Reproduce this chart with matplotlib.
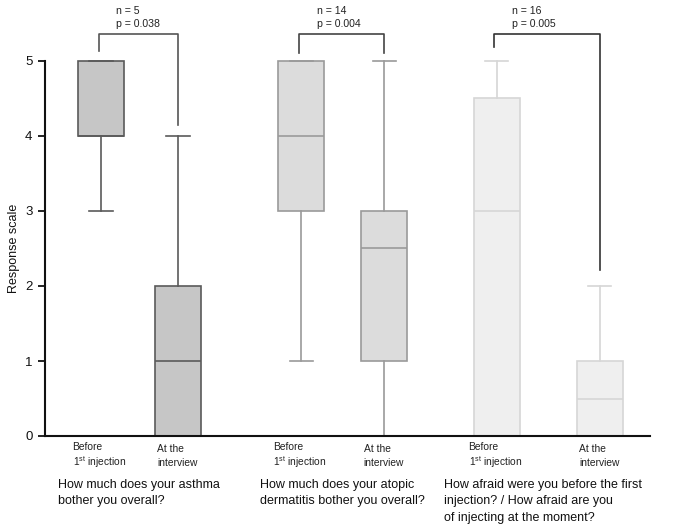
import matplotlib
matplotlib.use("Agg")
import matplotlib.pyplot as plt

plt.rcParams['font.family'] = ['Liberation Sans', 'DejaVu Sans']
plt.rcParams['mathtext.fontset'] = 'custom'
plt.rcParams['mathtext.rm'] = 'Liberation Sans'
plt.rcParams['mathtext.it'] = 'Liberation Sans:italic'

# ---- data ----
questions = ["How much does your asthma\nbother you overall?",
             "How much does your atopic\ndermatitis bother you overall?",
             "How afraid were you before the first\ninjection? / How afraid are you\nof injecting at the moment?"]
before_lines = ["Before", "1$^{\\mathrm{st}}$ injection"]
after_lines = ["At the", "interview"]
n_values = [5, 14, 16]
p_values = ["0.038", "0.004", "0.005"]
# per box: order: G1 before, G1 after, G2 before, G2 after, G3 before, G3 after
whislo = [3, 0, 1, 0, 0, 0]
q1 = [4, 0, 3, 1, 0, 0]
med = [4, 1, 4, 2.5, 3, 0.5]
q3 = [5, 2, 5, 3, 4.5, 1]
whishi = [5, 4, 5, 5, 5, 2]
# bracket leg ends (y) for [before, after] per group
bracket_leg_ends = [[5.13, 4.15], [5.11, 5.11], [5.18, 2.21]]

positions = [1.0, 2.0, 3.6, 4.68, 6.14, 7.48]
fills = ['#c6c6c6', '#dcdcdc', '#efefef']
edges = ['#5a5a5a', '#9a9a9a', '#d6d6d6']
bracket_colors = ['#555555', '#444444', '#333333']

fig = plt.figure(figsize=(6.85, 5.24), dpi=100)
ax = fig.add_axes([45/685, 88/524, 605/685, 412.5/524])

stats = []
for i in range(6):
    stats.append(dict(whislo=whislo[i], q1=q1[i], med=med[i], q3=q3[i], whishi=whishi[i], fliers=[]))

for i in range(6):
    g = i // 2
    c = edges[g]
    ax.bxp([stats[i]], positions=[positions[i]], widths=0.6, patch_artist=True,
           showfliers=False, capwidths=[0.3],
           boxprops=dict(facecolor=fills[g], edgecolor=c, linewidth=1.2),
           medianprops=dict(color=c, linewidth=1.2),
           whiskerprops=dict(color=c, linewidth=1.2),
           capprops=dict(color=c, linewidth=1.2))

ax.set_xlim(0.273, 8.13)
ax.set_ylim(0, 5.5)
ax.spines['top'].set_visible(False)
ax.spines['right'].set_visible(False)
ax.spines['left'].set_bounds(0, 5)
for s in ['left', 'bottom']:
    ax.spines[s].set_linewidth(1.5)
    ax.spines[s].set_color('#111111')
ax.set_yticks([0, 1, 2, 3, 4, 5])
ax.set_xticks([])
ax.tick_params(axis='y', direction='out', length=5, width=1.3, labelsize=9.5, colors='#111111', pad=4)
ax.set_ylabel("Response scale", fontsize=9, color='#111111')
ax.yaxis.set_label_coords(-0.051, 2.5/5.5)
ax.yaxis.label.set_va('center')

# brackets and annotations
top_y = 5.36
for g in range(3):
    xa = positions[2*g] - 0.03
    xb = positions[2*g+1]
    ya, yb = bracket_leg_ends[g]
    ax.plot([xa, xa, xb, xb], [ya, top_y, top_y, yb], color=bracket_colors[g], lw=1.2, clip_on=False)
    ax.text(positions[2*g] + 0.2, 5.42, f"n = {n_values[g]}\np = {p_values[g]}", fontsize=7.6,
            ha='left', va='bottom', color='#222222', linespacing=1.45)

# x labels
tr = ax.get_xaxis_transform()
for g in range(3):
    ax.text(positions[2*g] - 0.37, -0.0267, before_lines[0], transform=tr, fontsize=7.4,
            ha='left', va='center', color='#222222')
    ax.text(positions[2*g] - 0.36, -0.063, before_lines[1], transform=tr, fontsize=7.4,
            ha='left', va='center', color='#222222')
    ax.text(positions[2*g+1] - 0.27, -0.0315, after_lines[0], transform=tr, fontsize=7.4,
            ha='left', va='center', color='#222222')
    ax.text(positions[2*g+1] - 0.27, -0.0655, after_lines[1], transform=tr, fontsize=7.4,
            ha='left', va='center', color='#222222')

q_x = [0.44, 3.07, 5.45]
for g in range(3):
    ax.text(q_x[g], -0.104, questions[g], transform=tr, fontsize=9, ha='left', va='top',
            color='#111111', linespacing=1.5)

fig.savefig("out.png", dpi=100)
